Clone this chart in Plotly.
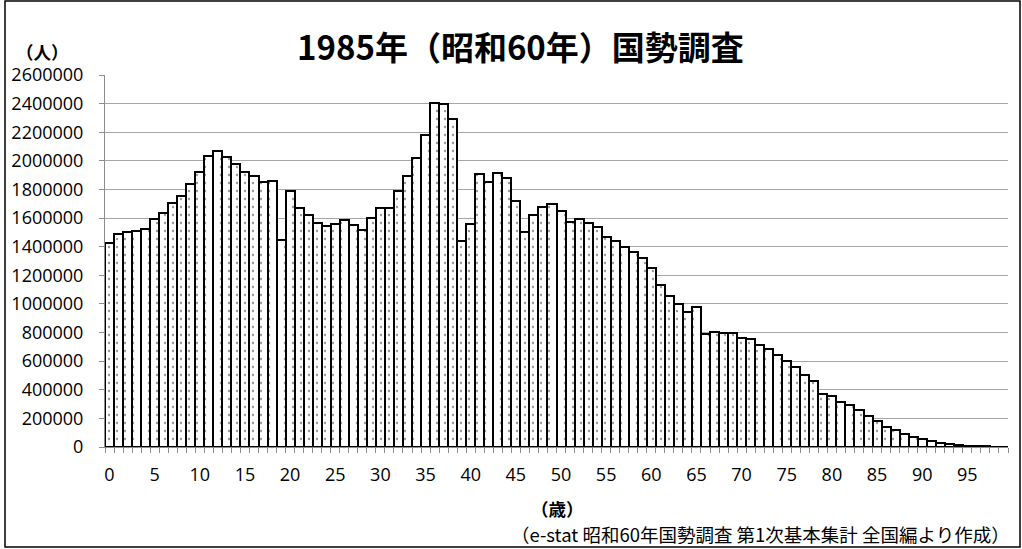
import plotly.graph_objects as go

ages = list(range(100))
population = [
    1426000, 1488000, 1502000, 1507000, 1523000, 1593000, 1635000, 1705000, 1751000, 1840000,
    1923000, 2033000, 2070000, 2026000, 1979000, 1921000, 1895000, 1849000, 1856000, 1449000,
    1791000, 1667000, 1621000, 1567000, 1547000, 1560000, 1588000, 1553000, 1514000, 1598000,
    1672000, 1672000, 1786000, 1893000, 2023000, 2184000, 2405000, 2400000, 2295000, 1440000,
    1560000, 1907000, 1854000, 1914000, 1881000, 1719000, 1505000, 1621000, 1679000, 1698000,
    1647000, 1574000, 1593000, 1567000, 1535000, 1465000, 1440000, 1398000, 1360000, 1321000,
    1249000, 1135000, 1056000, 1002000, 947000, 979000, 791000, 807000, 800000, 798000,
    765000, 756000, 712000, 686000, 640000, 602000, 556000, 500000, 463000, 370000,
    353000, 312000, 293000, 256000, 219000, 179000, 140000, 121000, 93000, 72000,
    56000, 42000, 28000, 19000, 14000, 9000, 6000, 4000, 2500, 1500,
]
x_tick_vals = list(range(0, 100, 5))
x_tick_text = [str(v) for v in x_tick_vals]
y_tick_vals = list(range(0, 2600001, 200000))
y_tick_text = [str(v) for v in y_tick_vals]

title_text = "1985年（昭和60年）国勢調査"
y_unit = "（人）"
x_unit = "（歳）"
source_text = "（e-stat 昭和60年国勢調査 第1次基本集計 全国編より作成）"

W, H = 1022, 549
L, R, T, B = 105, 14, 75, 102
PW, PH = W - L - R, H - T - B


def px(xp):
    return (xp - L) / PW


def py(yp):
    return (H - B - yp) / PH


num_font = "Open Sans, Noto Sans CJK JP, sans-serif"
cjk_font = "Noto Sans CJK JP, sans-serif"

fig = go.Figure()
fig.add_trace(go.Bar(
    x=ages,
    y=population,
    width=1.0,
    marker=dict(
        color="white",
        line=dict(color="black", width=2),
        pattern=dict(shape=".", fgcolor="#333333", bgcolor="white", size=8, solidity=0.07),
    ),
    hoverinfo="x+y",
))

fig.update_layout(
    width=W, height=H,
    margin=dict(l=L, r=R, t=T, b=B, pad=0),
    paper_bgcolor="white",
    plot_bgcolor="white",
    showlegend=False,
    bargap=0,
    font=dict(family=num_font, size=18, color="black"),
    xaxis=dict(
        range=[-0.5, 99.5],
        tickmode="array",
        tickvals=x_tick_vals,
        ticktext=x_tick_text,
        ticks="",
        ticklabelstandoff=11,
        showgrid=False,
        zeroline=False,
        showline=True,
        linecolor="#8c8c8c",
        linewidth=1,
        tickfont=dict(family=num_font, size=18, color="black"),
        minor=dict(tickmode="linear", tick0=-0.5, dtick=1, ticks="outside",
                   ticklen=5, tickcolor="#8c8c8c", tickwidth=1, showgrid=False),
        fixedrange=True,
    ),
    yaxis=dict(
        range=[0, 2600000],
        tickmode="array",
        tickvals=y_tick_vals,
        ticktext=y_tick_text,
        ticks="outside",
        ticklen=5,
        tickcolor="#8c8c8c",
        ticklabelstandoff=12,
        showgrid=True,
        gridcolor="#a6a6a6",
        gridwidth=1,
        zeroline=False,
        showline=True,
        linecolor="#8c8c8c",
        linewidth=1,
        tickfont=dict(family=num_font, size=18, color="black"),
        fixedrange=True,
    ),
)

fig.add_annotation(x=px(520), y=py(46), xref="paper", yref="paper",
                   text="<b>" + title_text + "</b>", showarrow=False,
                   xanchor="center", yanchor="middle",
                   font=dict(family=cjk_font, size=33, color="black"))
fig.add_annotation(x=px(42), y=py(51), xref="paper", yref="paper",
                   text="<b>" + y_unit + "</b>", showarrow=False,
                   xanchor="center", yanchor="middle",
                   font=dict(family=cjk_font, size=17.5, color="black"))
fig.add_annotation(x=px(557), y=py(508), xref="paper", yref="paper",
                   text="<b>" + x_unit + "</b>", showarrow=False,
                   xanchor="center", yanchor="middle",
                   font=dict(family=cjk_font, size=17.5, color="black"))
fig.add_annotation(x=px(1012), y=py(534), xref="paper", yref="paper",
                   text=source_text, showarrow=False,
                   xanchor="right", yanchor="middle",
                   font=dict(family=cjk_font, size=18.5, color="black"))

fig.add_shape(type="rect", xref="paper", yref="paper",
              x0=px(5), x1=px(1020), y0=py(547), y1=py(1),
              line=dict(color="black", width=1.5), fillcolor="rgba(0,0,0,0)", layer="below")

fig.write_html(
    "out.html",
    config={"displayModeBar": False},
    post_script="document.body.style.margin='0';document.body.style.padding='0';",
)
